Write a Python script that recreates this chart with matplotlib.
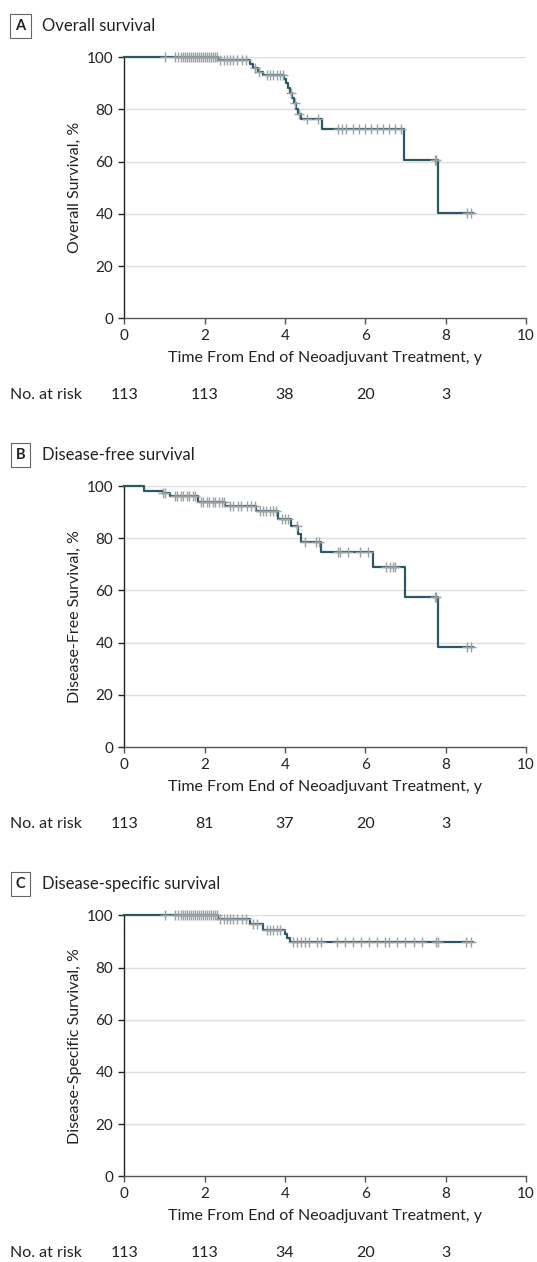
import numpy as np
import matplotlib
matplotlib.use("Agg")
import matplotlib.pyplot as plt

plt.rcParams["font.family"] = ["Lato", "DejaVu Sans"]

W, H = 537, 1262

# --- data ---
risk_years = [0, 2, 4, 6, 8]

# A: overall survival
os_times = [2.33, 3.13, 3.20, 3.33, 3.46, 3.98, 4.03, 4.08, 4.12, 4.17, 4.22, 4.27, 4.33, 4.41, 4.91, 6.97, 7.80]
os_surv = [98.8, 97.3, 95.8, 94.4, 93.2, 91.7, 90.0, 88.2, 86.3, 84.4, 82.3, 80.3, 78.4, 76.5, 72.6, 60.5, 40.4]
os_censor = [1.01, 1.27, 1.33, 1.40, 1.45, 1.50, 1.55, 1.60, 1.65, 1.70, 1.75, 1.80, 1.85, 1.90, 1.95,
             2.00, 2.05, 2.10, 2.15, 2.20, 2.25, 2.30, 2.38, 2.47, 2.55, 2.63, 2.71, 2.80, 2.92, 3.04,
             3.25, 3.35, 3.54, 3.62, 3.71, 3.79, 3.87, 3.96, 4.14, 4.25, 4.35, 4.54, 4.83,
             5.32, 5.41, 5.53, 5.70, 5.85, 6.00, 6.15, 6.30, 6.45, 6.60, 6.75, 6.88,
             7.73, 7.76, 8.52, 8.62]
os_end = 8.68
os_risk = [113, 113, 38, 20, 3]

# B: disease-free survival
dfs_times = [0.50, 0.97, 1.13, 1.84, 2.50, 3.29, 3.83, 4.14, 4.33, 4.41, 4.89, 6.18, 6.98, 7.80]
dfs_surv = [98.0, 97.2, 96.1, 93.9, 92.2, 90.3, 87.5, 84.6, 81.8, 78.6, 74.6, 68.9, 57.4, 38.3]
dfs_censor = [0.97, 1.02, 1.25, 1.32, 1.40, 1.47, 1.55, 1.62, 1.70, 1.77, 1.90, 1.97, 2.05, 2.12, 2.20,
              2.27, 2.35, 2.42, 2.48, 2.62, 2.70, 2.82, 2.90, 3.05, 3.15, 3.25, 3.37, 3.45, 3.53, 3.62,
              3.70, 3.78, 3.92, 4.00, 4.08, 4.30, 4.50, 4.78, 4.85, 5.32, 5.37, 5.57, 5.86, 6.07,
              6.51, 6.61, 6.70, 6.73, 7.73, 7.75, 8.52, 8.64]
dfs_end = 8.68
dfs_risk = [113, 81, 37, 20, 3]

# C: disease-specific survival
dss_times = [2.34, 3.13, 3.46, 4.00, 4.06, 4.12]
dss_surv = [98.7, 96.8, 94.5, 92.8, 91.3, 89.8]
dss_censor = [1.01, 1.27, 1.33, 1.40, 1.45, 1.50, 1.55, 1.60, 1.65, 1.70, 1.75, 1.80, 1.85, 1.90, 1.95,
              2.00, 2.05, 2.10, 2.15, 2.20, 2.25, 2.30, 2.38, 2.47, 2.55, 2.63, 2.71, 2.80, 2.92, 3.04,
              3.20, 3.30, 3.55, 3.62, 3.71, 3.79, 3.87, 4.20, 4.30, 4.40, 4.50, 4.60, 4.80, 4.90,
              5.30, 5.50, 5.70, 5.90, 6.10, 6.30, 6.50, 6.60, 6.80, 7.00, 7.20, 7.40, 7.75, 7.80,
              8.50, 8.62]
dss_end = 8.68
dss_risk = [113, 113, 34, 20, 3]

panels = [
    ("A", "Overall survival", "Overall Survival, %", os_times, os_surv, os_censor, os_end, os_risk),
    ("B", "Disease-free survival", "Disease-Free Survival, %", dfs_times, dfs_surv, dfs_censor, dfs_end, dfs_risk),
    ("C", "Disease-specific survival", "Disease-Specific Survival, %", dss_times, dss_surv, dss_censor, dss_end, dss_risk),
]

line_col = "#2c5767"
cens_col = "#9aa1a5"
grid_col = "#dedede"

ax_left, ax_right = 124.3, 526.0
ax_tops = [57.3, 486.0, 915.3]
ax_h = 261.0


def fx(px):
    return px / W


def fy(py):
    return 1 - py / H


fig = plt.figure(figsize=(W / 100, H / 100), dpi=100)

for (letter, title, ylab, times, surv, censor, end, risk), top in zip(panels, ax_tops):
    bottom = top + ax_h
    ax = fig.add_axes([fx(ax_left), fy(bottom), fx(ax_right - ax_left), ax_h / H])

    xs = [0] + times + [end]
    ys = [100] + surv + [surv[-1]]
    ax.step(xs, ys, where="post", color=line_col, lw=1.6, clip_on=False, zorder=3)

    levels = np.array([100] + surv)
    idx = np.searchsorted(np.array(times), np.array(censor), side="right")
    ax.plot(censor, levels[idx], ls="none", marker="+", ms=7, mew=1.0,
            color=cens_col, clip_on=False, zorder=4)

    ax.set_xlim(0, 10)
    ax.set_ylim(0, 100)
    ax.set_xticks(range(0, 11, 2))
    ax.set_yticks(range(0, 101, 20))
    for yv in range(20, 101, 20):
        ax.axhline(yv, color=grid_col, lw=1.0, zorder=1)

    for s in ["top", "right"]:
        ax.spines[s].set_visible(False)
    ax.spines["left"].set_color("#222222")
    ax.spines["bottom"].set_color("#555555")
    ax.spines["left"].set_linewidth(1.0)
    ax.spines["bottom"].set_linewidth(1.0)
    ax.tick_params(direction="out", length=4, width=1.0, labelsize=11, colors="#222222", pad=4)
    ax.tick_params(axis="x", colors="#555555", labelcolor="#222222")

    # title with boxed letter
    ty = top - 31
    fig.text(fx(20.5), fy(ty), letter, ha="center", va="center", fontsize=10.5,
             fontweight="bold", color="#222222",
             bbox=dict(boxstyle="square,pad=0.35", fc="white", ec="#666666", lw=0.8))
    fig.text(fx(41.5), fy(ty), title, ha="left", va="center", fontsize=12, color="#222222")

    # axis labels
    fig.text(fx(75), fy(top + ax_h / 2), ylab, rotation=90, ha="center", va="center",
             fontsize=11.5, color="#222222")
    fig.text(fx((ax_left + ax_right) / 2), fy(bottom + 40), "Time From End of Neoadjuvant Treatment, y",
             ha="center", va="center", fontsize=11.5, color="#222222")

    # number at risk
    ry = bottom + 77
    fig.text(fx(9.5), fy(ry), "No. at risk", ha="left", va="center", fontsize=11.5, color="#222222")
    for yr, n in zip(risk_years, risk):
        px = ax_left + (ax_right - ax_left) * yr / 10
        fig.text(fx(px), fy(ry), str(n), ha="center", va="center", fontsize=11.5, color="#222222")

fig.savefig("out.png", dpi=100, facecolor="white")
